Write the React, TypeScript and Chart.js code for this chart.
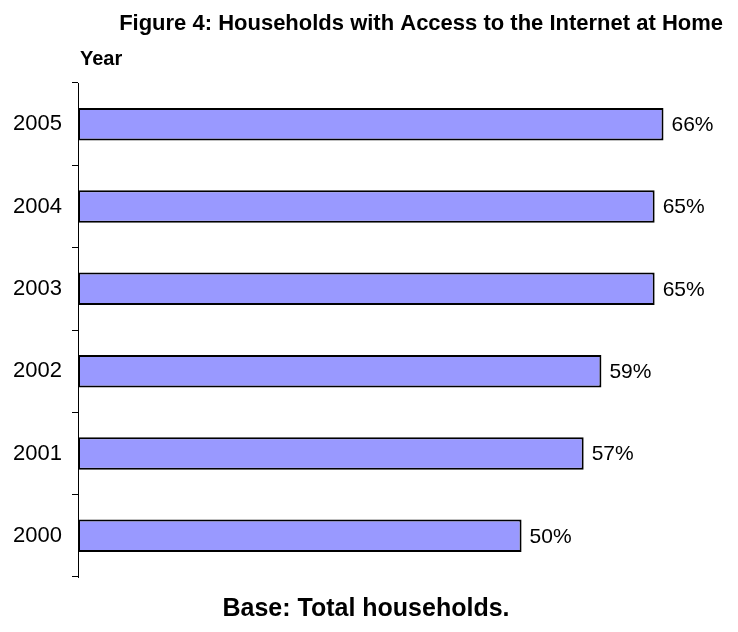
import React, { useEffect, useRef } from "react";
import { Chart, registerables } from "chart.js";

Chart.register(...registerables);

const years = ["2005", "2004", "2003", "2002", "2001", "2000"];
const shares = [66, 65, 65, 59, 57, 50];
const titleText = "Figure 4: Households with Access to the Internet at Home";
const axisTitle = "Year";
const footerText = "Base: Total households.";

const FONT = '"Liberation Sans", Arial, sans-serif';

const textPlugin = {
  id: "texts",
  afterDraw(chart: any) {
    const ctx = chart.ctx;
    ctx.save();
    ctx.fillStyle = "#000";
    ctx.textBaseline = "alphabetic";
    ctx.font = `bold 22px ${FONT}`;
    ctx.textAlign = "right";
    ctx.fillText(titleText, 723, 30);
    ctx.font = `bold 20px ${FONT}`;
    ctx.textAlign = "left";
    ctx.fillText(axisTitle, 80, 65);
    ctx.font = `bold 25px ${FONT}`;
    ctx.textAlign = "center";
    ctx.fillText(footerText, 366, 616);

    // value labels
    const meta = chart.getDatasetMeta(0);
    ctx.font = `21px ${FONT}`;
    ctx.textAlign = "left";
    ctx.textBaseline = "middle";
    meta.data.forEach((bar: any, i: number) => {
      ctx.fillText(`${shares[i]}%`, bar.x + 8, bar.y + 1);
    });
    ctx.restore();
  },
};

export default function App() {
  const ref = useRef<HTMLCanvasElement>(null);
  useEffect(() => {
    if (!ref.current) return;
    const chart = new Chart(ref.current, {
      type: "bar",
      data: {
        labels: years,
        datasets: [
          {
            data: shares,
            backgroundColor: "#9999FF",
            borderColor: "#000000",
            borderWidth: 2,
            borderSkipped: false,
            categoryPercentage: 1,
            barPercentage: 0.394,
          },
        ],
      },
      options: {
        indexAxis: "y",
        responsive: false,
        animation: false,
        events: [],
        layout: { padding: { left: 0, right: 39, top: 83, bottom: 55 } },
        plugins: {
          legend: { display: false },
          tooltip: { enabled: false },
          title: { display: false },
        },
        scales: {
          x: { display: false, min: 0, max: 70 },
          y: {
            afterFit: (scale: any) => {
              scale.width = 78;
            },
            border: { display: true, color: "#000", width: 1 },
            grid: {
              display: true,
              offset: true,
              drawOnChartArea: false,
              drawTicks: true,
              tickLength: 6,
              color: "#000",
            },
            ticks: {
              padding: 10,
              color: "#000",
              font: { family: FONT, size: 22 },
            },
          },
        },
      },
      plugins: [textPlugin],
    });
    return () => chart.destroy();
  }, []);
  return (
    <div style={{ position: "absolute", left: 0, top: 0, width: 738, height: 632, background: "#fff" }}>
      <canvas ref={ref} width={738} height={632} />
    </div>
  );
}
